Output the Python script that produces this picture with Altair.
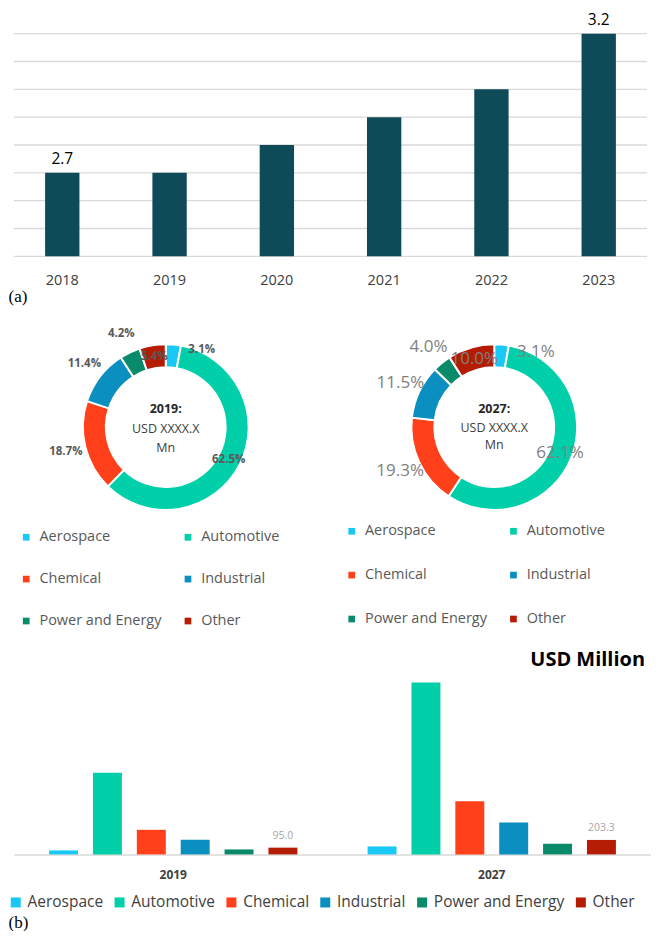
import altair as alt
import pandas as pd

# ---------------- data ----------------
years = ["2018", "2019", "2020", "2021", "2022", "2023"]
market_values = [2.7, 2.7, 2.8, 2.9, 3.0, 3.2]
market_labels = ["2.7", "", "", "", "", "3.2"]
market_grid = [2.4, 2.5, 2.6, 2.7, 2.8, 2.9, 3.0, 3.1, 3.2]

categories = ["Aerospace", "Automotive", "Chemical", "Industrial", "Power and Energy", "Other"]
cat_colors = ["#19c8f4", "#00cfaa", "#ff401a", "#0b8fc1", "#098a6a", "#b41c04"]
share_2019 = [3.1, 62.5, 18.7, 11.4, 4.2, 5.4]
share_2027 = [3.1, 62.1, 19.3, 11.5, 4.0, 10.0]
center_2019 = ["2019:", "USD XXXX.X", "Mn"]
center_2027 = ["2027:", "USD XXXX.X", "Mn"]

bar_years = ["2019", "2027"]
usd_2019 = [56, 1150, 346, 206, 70, 95.0]
usd_2027 = [112, 2418, 746, 448, 150, 203.3]
usd_labels_2019 = ["", "", "", "", "", "95.0"]
usd_labels_2027 = ["", "", "", "", "", "203.3"]
usd_domain = [0, 2500]

FONT = "Open Sans"
SERIF = "Liberation Serif"

# ---------------- (a) market bar chart ----------------
dfa = pd.DataFrame({"year": years, "value": market_values, "label": market_labels})
dfgrid = pd.DataFrame({"g": market_grid})
ya_scale = alt.Scale(domain=[market_grid[0], market_grid[-1]], zero=False, nice=False)
xa = alt.X(
    "year:N", sort=years,
    scale=alt.Scale(paddingInner=0.68, paddingOuter=0.29),
    axis=alt.Axis(
        title="(a)", labelAngle=0, labelFont=FONT, labelFontSize=14.5, labelColor="#404040",
        labelPadding=17, domain=False, ticks=False, grid=False,
        titleFont=SERIF, titleFontSize=17, titleFontWeight="normal", titleColor="#000000",
        titleAnchor="start", titleAlign="left", titleX=-6, titleY=40, titleBaseline="middle",
    ),
)
grid_a = alt.Chart(dfgrid).mark_rule(color="#d9d9d9", strokeWidth=1.3).encode(
    y=alt.Y("g:Q", scale=ya_scale, axis=None)
)
bars_a = alt.Chart(dfa).mark_bar(color="#0f4a59").encode(
    x=xa, y=alt.Y("value:Q", scale=ya_scale, axis=None), y2=alt.datum(market_grid[0])
)
text_a = alt.Chart(dfa).mark_text(baseline="bottom", dy=-6, fontSize=15.5, font=FONT, color="#000000").encode(
    x=alt.X("year:N", sort=years), y=alt.Y("value:Q"), text="label:N"
)
chart_a = alt.layer(grid_a, bars_a, text_a).properties(width=634, height=223)


# ---------------- donuts ----------------
def donut(shares, center_lines, pct_size, pct_weight, pct_color, out_r, aero_dx, aero_dy,
          leg_x, leg_y, row_pad, center_dys):
    df = pd.DataFrame({
        "cat": categories, "share": shares, "idx": list(range(len(categories))),
        "pct": [f"{v:.1f}%" for v in shares],
    })
    base = alt.Chart(df)
    theta = alt.Theta("share:Q", stack=True)
    order = alt.Order("idx:Q")
    arc = base.mark_arc(innerRadius=60, outerRadius=83, stroke="white", strokeWidth=2).encode(
        theta=theta, order=order,
        color=alt.Color(
            "cat:N", sort=categories,
            scale=alt.Scale(domain=categories, range=cat_colors),
            legend=alt.Legend(
                title=None, orient="none", legendX=leg_x, legendY=leg_y, columns=2,
                direction="horizontal",
                columnPadding=19, rowPadding=row_pad, symbolType="square", symbolSize=45,
                symbolStrokeWidth=0, labelFont=FONT, labelFontSize=14.5, labelColor="#595959",
                labelOffset=6, padding=0, labelLimit=0,
            ),
        ),
    )

    def lab(test, radius, dx=0, dy=0):
        return base.mark_text(
            radius=radius, dx=dx, dy=dy, fontSize=pct_size, fontWeight=pct_weight,
            color=pct_color, font=FONT,
        ).encode(theta=theta, order=order, text=alt.condition(test, "pct:N", alt.value("")))

    inside = lab("datum.cat == 'Automotive' || datum.cat == 'Other'", 71)
    outside = lab("datum.cat == 'Chemical' || datum.cat == 'Industrial' || datum.cat == 'Power and Energy'", out_r)
    aero = lab("datum.cat == 'Aerospace'", 87, aero_dx, aero_dy)

    first = "datum.idx == 0"
    c_year = base.mark_text(
        radius=0, dy=center_dys[0], fontSize=12.5, fontWeight="bold", font=FONT, color="#262626",
    ).encode(theta=theta, order=order,
             text=alt.condition(first, alt.value(center_lines[0]), alt.value("")))
    c_mid = base.mark_text(
        radius=0, dy=center_dys[1], fontSize=12.5, font=FONT, color="#404040",
    ).encode(theta=theta, order=order,
             text=alt.condition(first, alt.value(center_lines[1]), alt.value("")))
    c_low = base.mark_text(
        radius=0, dy=center_dys[2], fontSize=12.5, font=FONT, color="#404040",
    ).encode(theta=theta, order=order,
             text=alt.condition(first, alt.value(center_lines[2]), alt.value("")))
    return alt.layer(arc, inside, outside, aero, c_year, c_mid, c_low).properties(width=304, height=200)


donut_left = donut(share_2019, center_2019, 11.5, "bold", "#595959", 103, 28, 9,
                   5, 203, 27, [-18, 2, 21])
donut_right = donut(share_2027, center_2027, 17, "normal", "#7f7f7f", 104, 34, 11,
                    2, 197, 29, [-18, 1, 18])
donuts = alt.hconcat(donut_left, donut_right, spacing=25).resolve_scale(
    color="independent", theta="independent"
).resolve_legend(color="independent")

# ---------------- (b) USD million grouped bars ----------------
dfc = pd.DataFrame({
    "year": [bar_years[0]] * len(categories) + [bar_years[1]] * len(categories),
    "cat": categories + categories,
    "value": usd_2019 + usd_2027,
    "label": usd_labels_2019 + usd_labels_2027,
})
xc = alt.X(
    "year:N", sort=bar_years, scale=alt.Scale(paddingInner=0, paddingOuter=0),
    axis=alt.Axis(
        title="(b)", labelAngle=0, labelFont=FONT, labelFontSize=12, labelFontWeight="bold",
        labelColor="#404040", labelPadding=15, ticks=False, domain=True, domainColor="#d9d9d9",
        domainWidth=1.5,
        titleFont=SERIF, titleFontSize=17, titleFontWeight="normal", titleColor="#000000",
        titleAnchor="start", titleAlign="left", titleX=-6, titleY=68, titleBaseline="middle",
    ),
)
xoc = alt.XOffset("cat:N", sort=categories, scale=alt.Scale(paddingInner=0.34, paddingOuter=0.8))
yc = alt.Y("value:Q", scale=alt.Scale(domain=usd_domain, nice=False), axis=None)
bars_c = alt.Chart(dfc).mark_bar().encode(
    x=xc, xOffset=xoc, y=yc,
    color=alt.Color(
        "cat:N", sort=categories, scale=alt.Scale(domain=categories, range=cat_colors),
        legend=alt.Legend(
            title=None, orient="none", direction="horizontal", legendX=-6, legendY=218,
            symbolType="square", symbolSize=100, symbolStrokeWidth=0, labelFont=FONT,
            labelFontSize=15.5, labelColor="#404040", labelOffset=4, columnPadding=8,
            padding=0, labelLimit=0,
        ),
    ),
)
text_c = alt.Chart(dfc).mark_text(baseline="bottom", dy=-7, fontSize=10.5, font=FONT, color="#a6a6a6").encode(
    x=alt.X("year:N", sort=bar_years), xOffset=xoc, y=alt.Y("value:Q"), text="label:N"
)
chart_c = alt.layer(bars_c, text_c).properties(
    width=638, height=178,
    title=alt.TitleParams("USD Million", anchor="end", frame="group", fontSize=20, fontWeight="bold",
                          font=FONT, color="#000000", offset=-4, dx=-6),
)

top_part = alt.vconcat(chart_a, donuts, spacing=10).resolve_scale(color="independent").resolve_legend(
    color="independent"
)

chart = (
    alt.vconcat(top_part, chart_c, spacing=21)
    .resolve_scale(color="independent")
    .resolve_legend(color="independent")
    .properties(padding={"left": 0, "top": 4, "right": 0, "bottom": 0})
    .configure(font=FONT)
    .configure_view(strokeWidth=0)
)

chart.save("out.html", embed_options={"renderer": "svg", "actions": False})
